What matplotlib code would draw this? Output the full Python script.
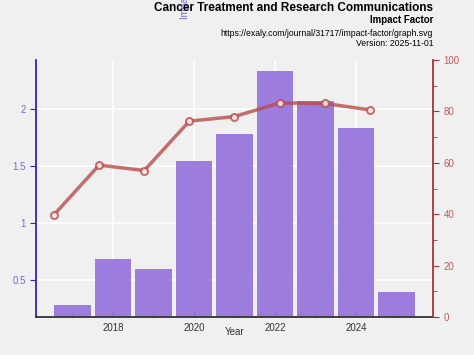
import matplotlib
matplotlib.use('Agg')
import matplotlib.pyplot as plt
from matplotlib.ticker import MultipleLocator

plt.rcParams['font.family'] = ['Liberation Sans', 'DejaVu Sans']

# impact factor bars (left axis)
years = [2017, 2018, 2019, 2020, 2021, 2022, 2023, 2024, 2025]
impact = [0.28, 0.68, 0.60, 1.54, 1.78, 2.33, 2.07, 1.83, 0.395]
# percentile line (right axis)
line_years = [2017, 2018, 2019, 2020, 2021, 2022, 2023, 2024]
percentile = [39.8, 59.1, 57.0, 76.2, 78.0, 83.3, 83.1, 80.6]

bg = '#f0f0f0'
left_col = '#3a1fc0'
left_txt = '#7a6ac8'
right_col = '#a03838'
right_txt = '#c05c5c'

fig = plt.figure(figsize=(4.74, 3.55), dpi=100, facecolor=bg)
pos = [36/474, 38/355, (433-36)/474, (317-60)/355]
ax = fig.add_axes(pos, facecolor=bg)

ax.bar(years, impact, width=0.9, color='#9370db', alpha=0.9, zorder=2)
ax.set_xlim(2016.1, 2025.9)
ax.set_ylim(0.175, 2.43)
ax.set_xticks([2018, 2020, 2022, 2024])
ax.xaxis.set_minor_locator(MultipleLocator(1))
ax.set_yticks([0.5, 1, 1.5, 2])
ax.set_yticklabels(['0.5', '1', '1.5', '2'])
ax.grid(True, color='white', linewidth=1.2, zorder=0)
ax.set_axisbelow(True)
ax.tick_params(axis='x', which='major', direction='in', length=5, color='#3a1f8a', labelsize=7, labelcolor='#333333', pad=4)
ax.tick_params(axis='x', which='minor', direction='in', length=3, color='#3a1f8a')
ax.tick_params(axis='y', direction='out', length=4, color=left_col, labelsize=7, labelcolor=left_txt)
ax.set_xlabel('Year', fontsize=7, color='#333333', labelpad=-4)
for s in ['top', 'right']:
    ax.spines[s].set_visible(False)
ax.spines['left'].set_color(left_col)
ax.spines['left'].set_linewidth(1.3)
ax.spines['bottom'].set_color('#333333')
ax.spines['bottom'].set_linewidth(1.3)

# second axes for the line, sharing the box
ax2 = fig.add_axes(pos, facecolor='none')
ax2.plot(line_years, percentile, color='#b84c4c', alpha=0.8, linewidth=2.5,
         marker='o', markersize=5, markerfacecolor='white', markeredgecolor='#b84c4c',
         markeredgewidth=1.5, zorder=3)
ax2.set_xlim(2016.6, 2025.4)
ax2.set_ylim(0, 100)
ax2.xaxis.set_visible(False)
ax2.yaxis.tick_right()
ax2.set_yticks([0, 20, 40, 60, 80, 100])
ax2.yaxis.set_minor_locator(MultipleLocator(10))
ax2.tick_params(axis='y', which='major', direction='out', length=4, color=right_col, labelsize=7, labelcolor=right_txt)
ax2.tick_params(axis='y', which='minor', direction='out', length=3, color=right_col)
for s in ['top', 'left', 'bottom']:
    ax2.spines[s].set_visible(False)
ax2.spines['right'].set_color(right_col)
ax2.spines['right'].set_linewidth(1.3)

# y label that ends up mostly above the figure, as in the original
fig.text(185/474, 1 - 19/355, 'Impact Factor', rotation=90, fontsize=7, color=left_txt,
         ha='center', va='bottom')

fig.text(433/474, 1 - 8/355, 'Cancer Treatment and Research Communications', fontsize=8.5,
         fontweight='bold', ha='right', va='center', color='black')
fig.text(433/474, 1 - 20/355, 'Impact Factor', fontsize=7, fontweight='bold', ha='right', va='center', color='black')
fig.text(433/474, 1 - 33/355, 'https://exaly.com/journal/31717/impact-factor/graph.svg', fontsize=6.2,
         ha='right', va='center', color='black')
fig.text(433/474, 1 - 44/355, 'Version: 2025-11-01', fontsize=6.2, ha='right', va='center', color='black')

fig.savefig('out.png', dpi=100, facecolor=bg)
